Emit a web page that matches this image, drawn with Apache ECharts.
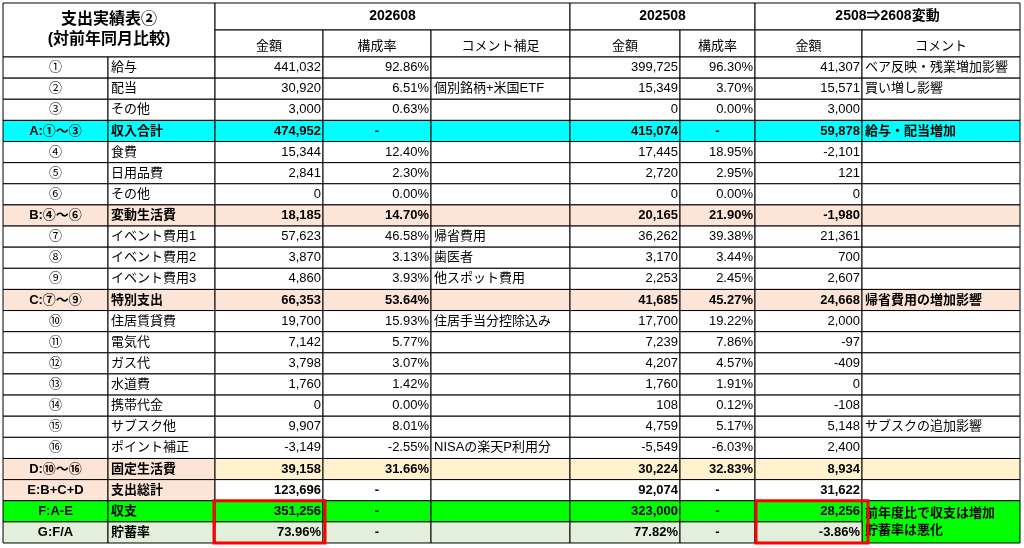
<!DOCTYPE html>
<html><head><meta charset="utf-8">
<script src="https://cdn.jsdelivr.net/npm/echarts@6/dist/echarts.min.js"></script>
<style>html,body{margin:0;padding:0;background:#fff}#c{width:1024px;height:548px}</style>
</head><body><div id="c"></div>
<script>
const codes=['①','②','③','A:①～③','④','⑤','⑥','B:④～⑥','⑦','⑧','⑨','C:⑦～⑨','⑩','⑪','⑫','⑬','⑭','⑮','⑯','D:⑩～⑯','E:B+C+D','F:A-E','G:F/A'];
const names=['給与','配当','その他','収入合計','食費','日用品費','その他','変動生活費','イベント費用1','イベント費用2','イベント費用3','特別支出','住居賃貸費','電気代','ガス代','水道費','携帯代金','サブスク他','ポイント補正','固定生活費','支出総計','収支','貯蓄率'];
const amt26=[441032,30920,3000,474952,15344,2841,0,18185,57623,3870,4860,66353,19700,7142,3798,1760,0,9907,-3149,39158,123696,351256,73.96];
const rat26=['92.86%','6.51%','0.63%','-','12.40%','2.30%','0.00%','14.70%','46.58%','3.13%','3.93%','53.64%','15.93%','5.77%','3.07%','1.42%','0.00%','8.01%','-2.55%','31.66%','-','-','-'];
const com26=['','個別銘柄+米国ETF','','','','','','','帰省費用','歯医者','他スポット費用','','住居手当分控除込み','','','','','','NISAの楽天P利用分','','','',''];
const amt25=[399725,15349,0,415074,17445,2720,0,20165,36262,3170,2253,41685,17700,7239,4207,1760,108,4759,-5549,30224,92074,323000,77.82];
const rat25=['96.30%','3.70%','0.00%','-','18.95%','2.95%','0.00%','21.90%','39.38%','3.44%','2.45%','45.27%','19.22%','7.86%','4.57%','1.91%','0.12%','5.17%','-6.03%','32.83%','-','-','-'];
const diff=[41307,15571,3000,59878,-2101,121,0,-1980,21361,700,2607,24668,2000,-97,-409,0,-108,5148,2400,8934,31622,28256,-3.86];
const diffCom=['ベア反映・残業増加影響','買い増し影響','','給与・配当増加','','','','','','','','帰省費用の増加影響','','','','','','サブスクの追加影響','','','','前年度比で収支は増加\n貯蓄率は悪化',''];
const pctRows=[22];
const headTitle='支出実績表②\n(対前年同月比較)';
const groupHeads=['202608','202508','2508⇒2608変動'];
const subHeads=['金額','構成率','コメント補足','金額','構成率','金額','コメント'];

// layout
const X=[3,108,215,323,431,570,680,755,862,1020];
const Y0=57, RH=21.13, HY=[3,30,57];
const fmtN=(v,r)=>pctRows.includes(r)?v.toFixed(2)+'%':v.toLocaleString('en-US');
const bgFor=(r,c)=>{
  const n=codes[r];
  if(n.startsWith('A'))return '#00FFFF';
  if(n.startsWith('B')||n.startsWith('C'))return '#FCE4D6';
  if(n.startsWith('D'))return c<2?'#FCE4D6':'#FFF2CC';
  if(n.startsWith('E'))return c<2?'#FCE4D6':'#FFFFFF';
  if(n.startsWith('F'))return '#00FF00';
  if(n.startsWith('G'))return c==8?'#00FF00':'#E2EFDA';
  return '#FFFFFF';
};
const cells=[];
function add(c0,c1,y0,y1,text,align,bold,bg,size){cells.push([X[c0],y0,X[c1],y1,text,align,bold?1:0,bg,size||13]);}
add(0,2,HY[0],HY[2],headTitle,'center',1,'#fff',16);
add(2,5,HY[0],HY[1],groupHeads[0],'center',1,'#fff',14);
add(5,7,HY[0],HY[1],groupHeads[1],'center',1,'#fff',14);
add(7,9,HY[0],HY[1],groupHeads[2],'center',1,'#fff',14);
[2,3,4,5,6,7,8].forEach((c,i)=>add(c,c+1,HY[1],HY[2],subHeads[i],'centerB',0,'#fff',13));
codes.forEach((code,r)=>{
  const y0=Y0+r*RH,y1=y0+RH,b=/^[A-G]/.test(code);
  add(0,1,y0,y1,code,'center',b,bgFor(r,0));
  add(1,2,y0,y1,names[r],'left',b,bgFor(r,1));
  add(2,3,y0,y1,fmtN(amt26[r],r),'right',b,bgFor(r,2));
  add(3,4,y0,y1,rat26[r],rat26[r]==='-'?'center':'right',b,bgFor(r,3));
  add(4,5,y0,y1,com26[r],'left',0,bgFor(r,4));
  add(5,6,y0,y1,fmtN(amt25[r],r),'right',b,bgFor(r,5));
  add(6,7,y0,y1,rat25[r],rat25[r]==='-'?'center':'right',b,bgFor(r,6));
  add(7,8,y0,y1,fmtN(diff[r],r),'right',b,bgFor(r,7));
  if(r===21) add(8,9,y0,y1+RH,diffCom[r],'left',1,'#00FF00');
  else if(r!==22) add(8,9,y0,y1,diffCom[r],'left',b,bgFor(r,8));
});
const redBoxes=[[214,Y0+21*RH,325,Y0+23*RH],[756,Y0+21*RH,868,Y0+23*RH]];

const chart=echarts.init(document.getElementById('c'));
chart.setOption({
  animation:false,
  grid:{left:0,right:0,top:0,bottom:0},
  xAxis:{type:'value',min:0,max:1024,show:false},
  yAxis:{type:'value',min:0,max:548,inverse:true,show:false},
  series:[{
    type:'custom',coordinateSystem:'cartesian2d',data:cells,
    renderItem:(p,api)=>{
      const a=api.coord([api.value(0),api.value(1)]),b=api.coord([api.value(2),api.value(3)]);
      const d=cells[p.dataIndex];
      const w=b[0]-a[0],h=b[1]-a[1];
      let al=d[5],tx,ta,ty=a[1]+h/2,tv='middle';
      if(al==='left'){tx=a[0]+3;ta='left';}
      else if(al==='right'){tx=b[0]-2;ta='right';}
      else {tx=a[0]+w/2;ta='center'; if(al==='centerB'){ty=b[1]-2;tv='bottom';}}
      return {type:'group',children:[
        {type:'rect',shape:{x:a[0],y:a[1],width:w,height:h},style:{fill:d[7],stroke:'#000',lineWidth:1}},
        {type:'text',style:{text:d[4],x:tx,y:ty,align:ta,verticalAlign:tv,fill:'#000',
          font:(d[6]?'bold ':'')+d[8]+'px "Liberation Sans","Noto Sans CJK JP",sans-serif',lineHeight:d[8]+4}}
      ]};
    }
  },{
    type:'custom',coordinateSystem:'cartesian2d',data:redBoxes,z:10,
    renderItem:(p,api)=>{
      const a=api.coord([api.value(0),api.value(1)]),b=api.coord([api.value(2),api.value(3)]);
      return {type:'rect',shape:{x:a[0],y:a[1],width:b[0]-a[0],height:b[1]-a[1]},style:{fill:'none',stroke:'#FF0000',lineWidth:3}};
    }
  }]
});
</script></body></html>
